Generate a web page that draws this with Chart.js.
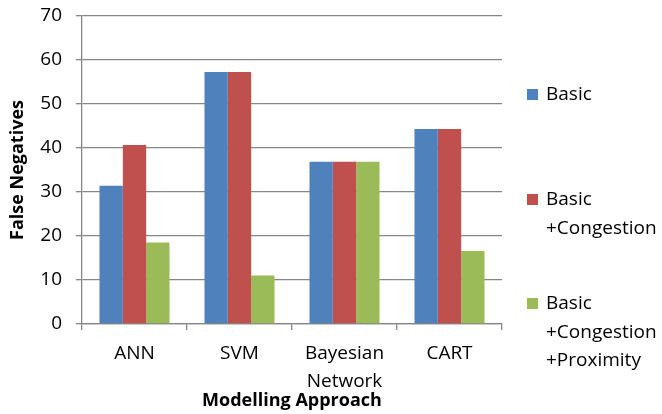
<!DOCTYPE html>
<html>
<head>
<meta charset="utf-8">
<script src="https://cdn.jsdelivr.net/npm/chart.js@4"></script>
<style>
  html, body { margin: 0; padding: 0; background: #fff; }
  #wrap { width: 662px; height: 414px; }
</style>
</head>
<body>
<div id="wrap"><canvas id="chart" width="662" height="414"></canvas></div>
<script>
// Chart data
const categories = ['ANN', 'SVM', ['Bayesian', 'Network'], 'CART'];
const seriesNames = [['Basic'], ['Basic', '+Congestion'], ['Basic', '+Congestion', '+Proximity']];
const basicValues = [31.4, 57.3, 36.9, 44.3];
const congestionValues = [40.7, 57.3, 36.9, 44.3];
const proximityValues = [18.5, 11.0, 36.9, 16.6];
const yTicks = [0, 10, 20, 30, 40, 50, 60, 70];

const colors = ['#4F81BD', '#C0504D', '#9BBB59'];
const gridColor = '#868686';
const fontFamily = "'Open Sans', sans-serif";

// legend drawn on the right, one entry per dataset, text can be multiline
const sideLegend = {
    id: 'sideLegend',
    afterDraw(chart) {
        const ctx = chart.ctx;
        const startY = [95, 200, 304];
        ctx.save();
        ctx.font = '19px ' + fontFamily;
        ctx.textBaseline = 'middle';
        ctx.textAlign = 'left';
        chart.data.datasets.forEach((ds, i) => {
            const y = startY[i];
            ctx.fillStyle = ds.backgroundColor;
            ctx.fillRect(527, y - 6, 11, 11);
            ctx.fillStyle = '#000';
            ds.legendLines.forEach((line, j) => {
                ctx.fillText(line, 546, y + j * 28.5);
            });
        });
        ctx.restore();
    }
};

const ctx = document.getElementById('chart');
new Chart(ctx, {
    type: 'bar',
    data: {
        labels: categories,
        datasets: [
            { label: 'Basic', legendLines: seriesNames[0], data: basicValues, backgroundColor: colors[0] },
            { label: 'Basic +Congestion', legendLines: seriesNames[1], data: congestionValues, backgroundColor: colors[1] },
            { label: 'Basic +Congestion +Proximity', legendLines: seriesNames[2], data: proximityValues, backgroundColor: colors[2] }
        ]
    },
    options: {
        responsive: false,
        animation: false,
        layout: { padding: { top: 16, right: 160, left: 0, bottom: 0 } },
        datasets: {
            bar: { categoryPercentage: 0.667, barPercentage: 1.0 }
        },
        scales: {
            x: {
                afterFit(scale) {
                    scale.height = 90;
                    scale.paddingLeft = 0;
                    scale.paddingRight = 0;
                },
                grid: {
                    display: true,
                    drawOnChartArea: false,
                    offset: true,
                    tickLength: 6,
                    color: gridColor,
                    lineWidth: 1.3
                },
                border: { display: true, color: gridColor, width: 1.3 },
                ticks: {
                    color: '#000',
                    padding: 10,
                    maxRotation: 0,
                    font: { family: fontFamily, size: 19, lineHeight: 1.45 }
                },
                title: {
                    display: true,
                    text: 'Modelling Approach',
                    color: '#000',
                    padding: { top: 0, bottom: 2 },
                    font: { family: fontFamily, size: 18, weight: 'bold' }
                }
            },
            y: {
                min: 0,
                max: 70,
                afterFit(scale) {
                    scale.width = 82;
                    scale.paddingTop = 0;
                    scale.paddingBottom = 0;
                },
                afterBuildTicks(scale) { scale.ticks = yTicks.map(v => ({ value: v })); },
                grid: { color: gridColor, tickLength: 6, lineWidth: 1.3 },
                border: { display: true, color: gridColor, width: 1.3 },
                ticks: {
                    color: '#000',
                    padding: 14,
                    font: { family: fontFamily, size: 19 }
                },
                title: {
                    display: true,
                    text: 'False Negatives',
                    color: '#000',
                    padding: { top: 7, bottom: 0 },
                    font: { family: fontFamily, size: 18, weight: 'bold' }
                }
            }
        },
        plugins: {
            legend: { display: false },
            tooltip: { enabled: false }
        }
    },
    plugins: [sideLegend]
});
</script>
</body>
</html>
